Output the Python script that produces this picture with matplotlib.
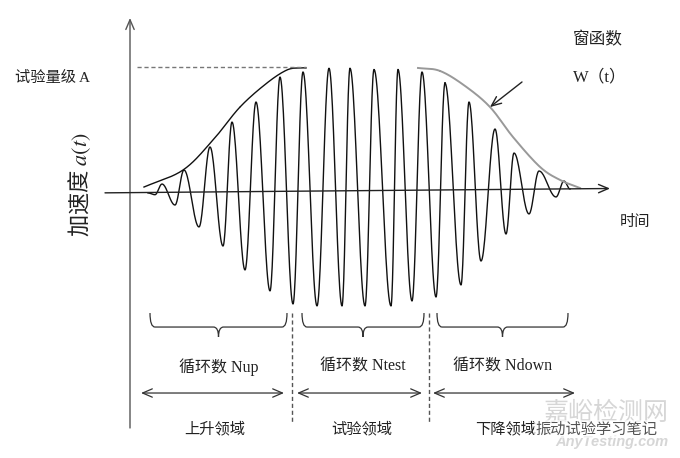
import numpy as np
import matplotlib.pyplot as plt
from matplotlib.path import Path
from matplotlib.patches import PathPatch

plt.rcParams['font.family'] = ['Liberation Serif', 'Noto Sans CJK SC']
plt.rcParams['mathtext.fontset'] = 'stix'

# 加速度信号的极值点 (时间, 加速度 / A)
t_ext = [1.8, 2.5, 3.2, 4.5, 5.4, 6.9, 8.0, 9.3, 10.2, 11.5, 12.6, 14.0, 15.0,
         16.3, 17.3, 18.7, 19.9, 21.2, 22.0, 23.5, 24.4, 26.1, 26.8, 28.2,
         29.2, 30.6, 31.5, 33.1, 33.9, 35.1, 36.5, 37.6, 38.4, 39.9, 40.9,
         42.6, 43.4, 44.0]
a_ext = [-0.016, -0.03, 0.056, -0.113, 0.169, -0.29, 0.355, -0.444, 0.556,
         -0.637, 0.718, -0.806, 0.919, -0.911, 0.96, -0.927, 0.99, -0.927,
         0.99, -0.927, 0.98, -0.927, 0.98, -0.887, 0.96, -0.855, 0.87, -0.758,
         0.718, -0.565, 0.5, -0.347, 0.306, -0.185, 0.161, -0.048, 0.08, 0.016]

# 窗函数 W(t): 上升段和下降段
t_up = [1.4, 5.3, 8.3, 11.0, 13.7, 15.7, 17.0, 17.6]
w_up = [0.032, 0.169, 0.411, 0.677, 0.871, 0.976, 0.992, 0.992]
t_down = [28.8, 31.0, 33.5, 36.0, 38.3, 41.0, 43.0, 45.0]
w_down = [0.992, 0.968, 0.847, 0.677, 0.435, 0.194, 0.089, 0.024]

# 三个区段
t_edges = [16.2, 29.9]
brace_x = [(2.0, 15.7), (17.2, 29.4), (30.7, 43.8)]
arrow_x = [(1.1, 15.4), (16.7, 29.2), (30.3, 44.5)]
cycle_labels = ['循环数 Nup', '循环数 Ntest', '循环数 Ndown']
region_labels = ['上升领域', '试验领域', '下降领域']
level_A = 1.0


def wave(t, a, n=24):
    # 相邻极值点之间用半个余弦连接
    tt, aa = [], []
    for i in range(len(t) - 1):
        s = np.linspace(0, 1, n)
        tt.append(t[i] + (t[i + 1] - t[i]) * s)
        aa.append(a[i] + (a[i + 1] - a[i]) * (1 - np.cos(np.pi * s)) / 2)
    return np.concatenate(tt), np.concatenate(aa)


def smooth(x, y, n=20):
    # Catmull-Rom 曲线
    p = np.column_stack([x, y]).astype(float)
    p = np.vstack([2 * p[0] - p[1], p, 2 * p[-1] - p[-2]])
    s = np.linspace(0, 1, n)[:, None]
    out = []
    for i in range(1, len(p) - 2):
        p0, p1, p2, p3 = p[i - 1], p[i], p[i + 1], p[i + 2]
        out.append(0.5 * (2 * p1 + (-p0 + p2) * s
                          + (2 * p0 - 5 * p1 + 4 * p2 - p3) * s ** 2
                          + (-p0 + 3 * p1 - 3 * p2 + p3) * s ** 3))
    out = np.vstack(out)
    return out[:, 0], out[:, 1]


def brace(ax, x0, x1, ytop=-0.984, ybot=-1.097, ytip=-1.177, r=0.5):
    xm = (x0 + x1) / 2
    verts = [(x0, ytop), (x0, ybot), (x0 + r, ybot),
             (xm - r, ybot), (xm, ybot), (xm, ytip),
             (xm, ybot), (xm + r, ybot),
             (x1 - r, ybot), (x1, ybot), (x1, ytop)]
    codes = [Path.MOVETO, Path.CURVE3, Path.CURVE3,
             Path.LINETO, Path.CURVE3, Path.CURVE3,
             Path.CURVE3, Path.CURVE3,
             Path.LINETO, Path.CURVE3, Path.CURVE3]
    ax.add_patch(PathPatch(Path(verts, codes), fill=False, lw=0.9, ec='#333333'))


fig = plt.figure(figsize=(6.8, 4.58), dpi=100)
ax = fig.add_axes([0, 0, 1, 1])
ax.set_xlim(-13, 55)
ax.set_ylim(-2.153, 1.540)
ax.axis('off')

# 坐标轴
arrow_kw = dict(arrowstyle='->,head_length=0.7,head_width=0.3', lw=1.0,
                shrinkA=0, shrinkB=0)
ax.annotate('', xy=(0, 1.395), xytext=(0, -1.911),
            arrowprops=dict(color='#555555', **arrow_kw))
ax.annotate('', xy=(48.0, 0.02), xytext=(-2.5, -0.015),
            arrowprops=dict(color='#222222', **arrow_kw))

# 信号与窗函数
tw, aw = wave(t_ext, a_ext)
ax.plot(tw, aw, color='#111111', lw=1.0)
xu, yu = smooth(t_up, w_up)
ax.plot(xu, yu, color='#111111', lw=1.0)
xd, yd = smooth(t_down, w_down)
ax.plot(xd, yd, color='#999999', lw=1.4)

ax.plot([0.7, t_up[-1]], [level_A, level_A], color='#777777', lw=1.0,
        ls=(0, (3, 2)))

# 区段分界
for te in t_edges:
    ax.plot([te, te], [-0.984, -1.86], color='#555555', lw=1.0, ls=(0, (3, 2)))

for (x0, x1), lab in zip(brace_x, cycle_labels):
    brace(ax, x0, x1)
    ax.text((x0 + x1) / 2, -1.419, lab, ha='center', va='center',
            fontsize=11.5, color='#222222')

for (x0, x1), lab in zip(arrow_x, region_labels):
    ax.annotate('', xy=(x1, -1.629), xytext=(x0, -1.629),
                arrowprops=dict(arrowstyle='<->,head_length=0.7,head_width=0.3',
                                lw=0.9, color='#333333', shrinkA=0, shrinkB=0))
    ax.text((x0 + x1) / 2 + 0.2, -1.92, lab, ha='center', va='center',
            fontsize=11, color='#222222')

# 文字说明
ax.text(-11.5, 0.911, '试验量级 A', ha='left', va='center', fontsize=11,
        color='#222222')
ax.text(-5.0, 0.05, '加速度 $a(t)$', ha='center', va='center', rotation=90,
        fontsize=16, color='#222222', family=['Noto Sans CJK SC', 'DejaVu Sans'])
ax.text(44.3, 1.218, '窗函数', ha='left', va='center', fontsize=12,
        color='#222222')
ax.text(44.3, 0.919, 'W（t）', ha='left', va='center', fontsize=12,
        color='#222222')
ax.text(49.0, -0.25, '时间', ha='left', va='center', fontsize=11,
        color='#222222')
ax.annotate('', xy=(36.0, 0.677), xytext=(39.2, 0.879),
            arrowprops=dict(arrowstyle='->,head_length=0.7,head_width=0.3',
                            lw=1.0, color='#222222', shrinkA=0, shrinkB=0))

# 水印
ax.text(53.8, -1.79, '嘉峪检测网', ha='right', va='center', fontsize=18,
        color='#d6d6d6', family=['Noto Sans CJK SC'])
ax.text(53.8, -2.02, 'AnyTesting.com', ha='right', va='center', fontsize=10.5,
        color='#d6d6d6', style='italic', weight='bold',
        family=['Liberation Sans'])
ax.text(52.7, -1.92, '振动试验学习笔记', ha='right', va='center', fontsize=11,
        color='#555555', family=['Noto Sans CJK SC'],
        bbox=dict(fc='white', ec='none', alpha=0.6, pad=0.5))

fig.savefig('out.png', dpi=100)
